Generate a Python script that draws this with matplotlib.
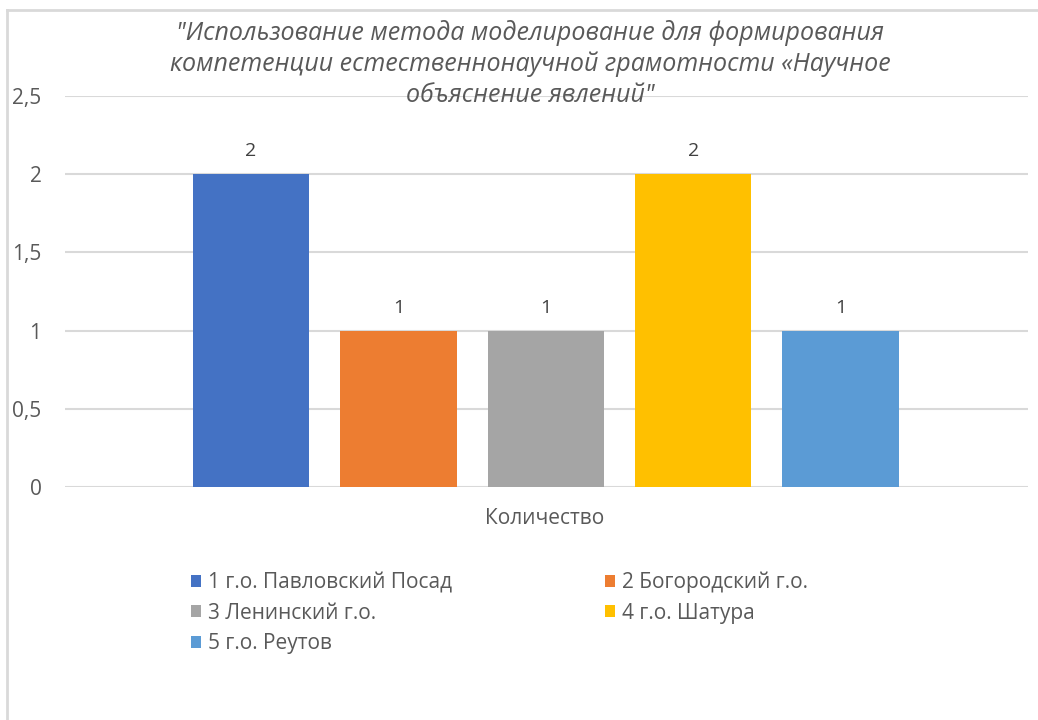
import matplotlib.pyplot as plt
from matplotlib.lines import Line2D

categories = ['1 г.о. Павловский Посад', '2 Богородский г.о.', '3 Ленинский г.о.',
              '4 г.о. Шатура', '5 г.о. Реутов']
values = [2, 1, 1, 2, 1]
colors = ['#4472c4', '#ed7d31', '#a5a5a5', '#ffc000', '#5b9bd5']
yticks = [0, 0.5, 1, 1.5, 2, 2.5]
ytick_labels = ['0', '0,5', '1', '1,5', '2', '2,5']
title = ('"Использование метода моделирование для формирования\n'
         'компетенции естественнонаучной грамотности «Научное\n'
         'объяснение явлений"')
xlabel = 'Количество'

plt.rcParams['font.family'] = ['Open Sans', 'DejaVu Sans']

fig = plt.figure(figsize=(10.38, 7.2), dpi=100)
ax = fig.add_axes([65 / 1038, 1 - 487 / 720, (1028 - 65) / 1038, (487 - 96) / 720])

for i in range(len(values)):
    ax.bar(i, values[i], width=0.79, color=colors[i], label=categories[i], zorder=3)
    ax.annotate(str(values[i]), (i, values[i]), xytext=(0, 10), textcoords='offset points',
                ha='center', va='bottom', fontsize=14, color='#404040')

ax.set_xlim(-1.26, 5.27)
ax.set_ylim(0, 2.5)
ax.set_yticks(yticks)
ax.set_yticklabels(ytick_labels, fontsize=15, color='#595959')
ax.set_xticks([])
ax.tick_params(axis='y', length=0, pad=17)
ax.grid(axis='y', color='#d9d9d9', linewidth=1.5, zorder=0)
for s in ax.spines.values():
    s.set_visible(False)

fig.text(545 / 1038, 1 - 518 / 720, xlabel, ha='center', va='center', fontsize=15, color='#595959')

fig.text(530 / 1038, 1 - 64 / 720, title, ha='center', va='center', fontsize=18,
         style='italic', color='#595959', linespacing=1.28)

# legend filled row by row
handles, labels = ax.get_legend_handles_labels()
order = [0, 2, 4, 1, 3]
fig.legend([handles[k] for k in order], [labels[k] for k in order], ncol=2, loc='upper left',
           bbox_to_anchor=(172 / 1038, 1 - 553 / 720), frameon=False, fontsize=15,
           labelcolor='#595959', handlelength=0.5, handleheight=0.5,
           handletextpad=0.35, columnspacing=7.3, labelspacing=0.45)

# chart border (cut off on the right and bottom)
fig.add_artist(Line2D([7 / 1038, 1], [1 - 10 / 720, 1 - 10 / 720], color='#d9d9d9', linewidth=2))
fig.add_artist(Line2D([7 / 1038, 7 / 1038], [0, 1 - 10 / 720], color='#d9d9d9', linewidth=2))

fig.savefig('out.png', dpi=100, facecolor='white')
